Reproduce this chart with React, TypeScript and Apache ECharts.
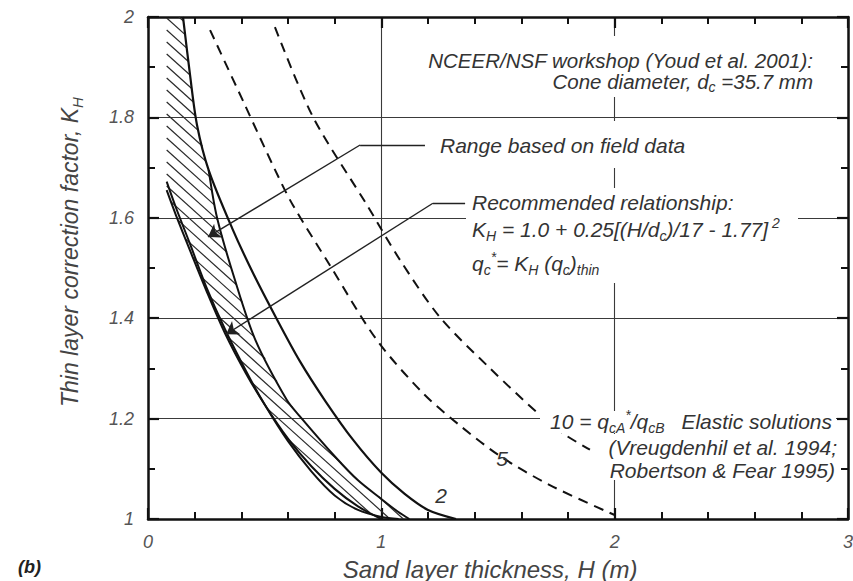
import React, { useEffect, useRef } from "react";
import * as echarts from "echarts";

// ---------- data ----------
const xTickValues = [0, 1, 2, 3];
const yTickValues = [1, 1.2, 1.4, 1.6, 1.8, 2];

// Elastic solution q_cA*/q_cB = 2 (solid)
const elastic2H = [0.15, 0.18, 0.21, 0.26, 0.36, 0.45, 0.55, 0.65, 0.76, 0.88, 1.0, 1.1, 1.2, 1.32];
const elastic2K = [2.0, 1.885, 1.785, 1.695, 1.58, 1.49, 1.4, 1.315, 1.235, 1.157, 1.092, 1.05, 1.018, 1.0];

// Elastic solution q_cA*/q_cB = 5 (dashed)
const elastic5H = [0.266, 0.41, 0.545, 0.62, 0.78, 0.98, 1.18, 1.34, 1.51, 1.72, 2.0];
const elastic5K = [1.974, 1.83, 1.695, 1.626, 1.505, 1.357, 1.25, 1.185, 1.125, 1.068, 1.008];

// Elastic solution q_cA*/q_cB = 10 (dashed)
const elastic10H = [0.544, 0.707, 0.939, 1.08, 1.251, 1.466, 1.68, 1.78, 1.894];
const elastic10K = [1.98, 1.801, 1.625, 1.516, 1.402, 1.3, 1.207, 1.17, 1.138];

// Range based on field data: lower and upper boundaries
const fieldLowH = [0.08, 0.12, 0.18, 0.25, 0.33, 0.42, 0.5, 0.6, 0.7, 0.8, 0.9, 1.0];
const fieldLowK = [1.655, 1.605, 1.535, 1.455, 1.37, 1.29, 1.228, 1.16, 1.105, 1.06, 1.025, 1.0];
const fieldUpH = [0.26, 0.296, 0.37, 0.46, 0.595, 0.65, 0.8, 0.9, 1.0, 1.07, 1.12];
const fieldUpK = [1.695, 1.6, 1.48, 1.357, 1.237, 1.205, 1.125, 1.077, 1.04, 1.015, 1.0];
const fieldTopLeftH = 0.08;

// Recommended relationship
const recH = [0.08, 0.12, 0.18, 0.25, 0.33, 0.42, 0.5, 0.6, 0.7, 0.8, 0.9, 1.0, 1.074];
const recK = [1.672, 1.62, 1.548, 1.462, 1.378, 1.295, 1.228, 1.155, 1.095, 1.047, 1.018, 1.004, 1.0];

// Leader arrows (annotation): elbow point then arrow tip
const rangeLeaderStart = [1.187, 1.745];
const rangeLeaderElbow = [0.909, 1.745];
const rangeLeaderTip = [0.257, 1.562];
const recLeaderStart = [1.359, 1.629];
const recLeaderElbow = [1.221, 1.629];
const recLeaderTip = [0.335, 1.368];

// ---------- helpers ----------
const FONT = "'Liberation Sans', Arial, Helvetica, sans-serif";
const TXT = "#333";
const INK = "#111";

const cut = elastic2H.indexOf(fieldUpH[0]);
const hatchPolygon: number[][] = [
  [fieldTopLeftH, 2],
  ...fieldLowH.map((h, i) => [h, fieldLowK[i]]),
  ...fieldUpH.map((h, i) => [h, fieldUpK[i]]).reverse(),
  ...elastic2H.slice(0, cut).map((h, i) => [h, elastic2K[i]]).reverse(),
];

function hatchSegments(poly: number[][], spacing: number, slope: number) {
  const cs = poly.map(([x, y]) => y - slope * x);
  const cMin = Math.min(...cs);
  const cMax = Math.max(...cs);
  const segs: number[][] = [];
  for (let c = Math.ceil(cMin / spacing) * spacing; c <= cMax; c += spacing) {
    const xs: number[] = [];
    for (let i = 0; i < poly.length; i++) {
      const [x1, y1] = poly[i];
      const [x2, y2] = poly[(i + 1) % poly.length];
      const f1 = y1 - slope * x1 - c;
      const f2 = y2 - slope * x2 - c;
      if ((f1 < 0 && f2 >= 0) || (f1 >= 0 && f2 < 0)) {
        const t = f1 / (f1 - f2);
        xs.push(x1 + t * (x2 - x1));
      }
    }
    xs.sort((a, b) => a - b);
    for (let k = 0; k + 1 < xs.length; k += 2) {
      segs.push([xs[k], slope * xs[k] + c, xs[k + 1], slope * xs[k + 1] + c]);
    }
  }
  return segs;
}

const curve = (name: string, H: number[], K: number[], type: any, width = 2) => ({
  name,
  type: "line",
  data: H.map((h, i) => [h, K[i]]),
  showSymbol: false,
  symbol: "none",
  smooth: 0.3,
  silent: true,
  z: 3,
  lineStyle: { color: INK, width, type },
});

const ann = { fontSize: 21, fontStyle: "italic", fontFamily: FONT, fill: TXT };
const mkRich = (fill: string, size: number) => ({
  sub: { fontSize: size, fontStyle: "italic", fontFamily: FONT, fill, height: 7, verticalAlign: "bottom" },
  sup: { fontSize: size, fontStyle: "italic", fontFamily: FONT, fill, height: 7, verticalAlign: "top" },
});
const rich = mkRich(TXT, 14);

const label = (text: string, x: number, y: number, align = "left", extra: any = {}) => ({
  type: "text",
  x,
  y,
  z: 101,
  silent: true,
  style: { ...ann, text, align, verticalAlign: "middle", lineHeight: 20, rich, ...extra },
});

const whiteRect = (x: number, y: number, width: number, height: number) => ({
  type: "rect",
  z: 100,
  silent: true,
  shape: { x, y, width, height },
  style: { fill: "#fff" },
});

const axisLineStyle = { show: true, onZero: false, lineStyle: { color: INK, width: 2.5 } };
const majorTick = { show: true, inside: true, length: 11, lineStyle: { color: INK, width: 2.2 } };
const minorTick = (n: number) => ({ show: true, splitNumber: n, length: 7, lineStyle: { color: INK, width: 2 } });
const tickLabel = { fontSize: 18, fontStyle: "italic", fontFamily: FONT, color: "#555", margin: 14 };

const segLine = (x1: number, y1: number, x2: number, y2: number, w: number, stroke: string) => ({
  type: "line",
  shape: { x1, y1, x2, y2 },
  style: { stroke, lineWidth: w },
});

const graphics = [
  whiteRect(405, 36, 413, 61),
  whiteRect(432, 121, 258, 47),
  whiteRect(466, 188, 332, 95),
  whiteRect(540, 411, 296, 22),
  whiteRect(604, 434, 234, 46),
  label("NCEER/NSF workshop (Youd et al. 2001):", 813, 60, "right", { lineHeight: 18, fontSize: 20.5 }),
  label("Cone diameter, d{sub|c} =35.7 mm", 813, 81, "right", { lineHeight: 18, fontSize: 20.5 }),
  label("Range based on field data", 440, 145),
  label("Recommended relationship:", 472, 202),
  label("K{sub|H} = 1.0 + 0.25[(H/d{sub|c})/17 - 1.77]{sup| 2}", 472, 229),
  label("q{sub|c}{sup|*}= K{sub|H} (q{sub|c}){sub|thin}", 472, 263),
  label("10 = q{sub|cA}{sup|*}/q{sub|cB}", 550, 421),
  label("Elastic solutions", 832, 421, "right"),
  label("(Vreugdenhil et al. 1994;", 837, 447, "right"),
  label("Robertson & Fear 1995)", 835, 470, "right"),
  label("5", 502, 458, "center"),
  label("2", 441, 495, "center"),
  label("Sand layer thickness, H (m)", 490, 569, "center", { fontSize: 24, fill: "#444", lineHeight: 26 }),
  {
    type: "text",
    x: 70,
    y: 252,
    rotation: Math.PI / 2,
    z: 101,
    silent: true,
    style: {
      ...ann, fontSize: 23, fill: "#444", lineHeight: 22,
      text: "Thin layer correction factor, K{sub|H}",
      align: "center", verticalAlign: "middle",
      rich: mkRich("#444", 15),
    },
  },
  {
    type: "text",
    x: 18,
    y: 567,
    z: 101,
    silent: true,
    style: { text: "(b)", fontSize: 18, fontStyle: "italic", fontWeight: "bold", fontFamily: FONT, fill: "#222", align: "left", verticalAlign: "middle" },
  },
];

export default function App() {
  const ref = useRef<HTMLDivElement>(null);
  useEffect(() => {
    const chart = echarts.init(ref.current!, null, { renderer: "svg" });
    const xMin = xTickValues[0];
    const xMax = xTickValues[xTickValues.length - 1];
    const yMin = yTickValues[0];
    const yMax = yTickValues[yTickValues.length - 1];
    const option: any = {
      animation: false,
      backgroundColor: "#fff",
      grid: { left: 148, top: 17, width: 700, height: 502, containLabel: false, outerBoundsMode: "none" },
      xAxis: [
        {
          type: "value", min: xMin, max: xMax, interval: 1, position: "bottom",
          axisLine: axisLineStyle, axisTick: majorTick, minorTick: minorTick(5),
          splitLine: { show: true, lineStyle: { color: "#3a3a3a", width: 1.1 } },
          axisLabel: { ...tickLabel, showMinLabel: true, showMaxLabel: true },
        },
        {
          type: "value", min: xMin, max: xMax, interval: 1, position: "top",
          axisLine: axisLineStyle, axisTick: majorTick, minorTick: minorTick(5),
          splitLine: { show: false }, axisLabel: { show: false },
        },
      ],
      yAxis: [
        {
          type: "value", min: yMin, max: yMax, interval: 0.2, position: "left",
          axisLine: axisLineStyle, axisTick: majorTick, minorTick: minorTick(2),
          splitLine: { show: true, lineStyle: { color: "#3a3a3a", width: 1.1 } },
          axisLabel: { ...tickLabel, showMinLabel: true, showMaxLabel: true },
        },
        {
          type: "value", min: yMin, max: yMax, interval: 0.2, position: "right",
          axisLine: axisLineStyle, axisTick: majorTick, minorTick: minorTick(2),
          splitLine: { show: false }, axisLabel: { show: false },
        },
      ],
      series: [
        {
          // hatching of the field-data range
          type: "custom",
          coordinateSystem: "cartesian2d",
          silent: true,
          clip: false,
          z: 2,
          data: [[0.5, 1.5]],
          renderItem: (params: any, api: any) => {
            const poly = hatchPolygon.map((p) => api.coord(p));
            return {
              type: "group",
              children: hatchSegments(poly, 12, 0.9).map((s) => segLine(s[0], s[1], s[2], s[3], 1.2, "#2a2a2a")),
            };
          },
        },
        curve("elastic2", elastic2H, elastic2K, "solid", 2.2),
        curve("elastic5", elastic5H, elastic5K, [10, 7], 2),
        curve("elastic10", elastic10H, elastic10K, [10, 7], 2),
        curve("fieldLow", fieldLowH, fieldLowK, "solid", 2),
        curve("fieldUp", fieldUpH, fieldUpK, "solid", 2),
        curve("recommended", recH, recK, "solid", 2),
        {
          type: "lines",
          coordinateSystem: "cartesian2d",
          silent: true,
          z: 5,
          symbol: "none",
          lineStyle: { color: "#222", width: 1.4, opacity: 1 },
          data: [
            { coords: [rangeLeaderStart, rangeLeaderElbow] },
            { coords: [recLeaderStart, recLeaderElbow] },
          ],
        },
        {
          type: "lines",
          coordinateSystem: "cartesian2d",
          silent: true,
          z: 5,
          symbol: ["none", "arrow"],
          symbolSize: 12,
          lineStyle: { color: "#222", width: 1.4, opacity: 1 },
          data: [
            { coords: [rangeLeaderElbow, rangeLeaderTip] },
            { coords: [recLeaderElbow, recLeaderTip] },
          ],
        },
      ],
      graphic: { elements: graphics },
    };
    chart.setOption(option);
    return () => chart.dispose();
  }, []);
  return (
    <div
      ref={ref}
      style={{ position: "fixed", left: 0, top: 0, width: 853, height: 581, background: "#fff" }}
    />
  );
}
